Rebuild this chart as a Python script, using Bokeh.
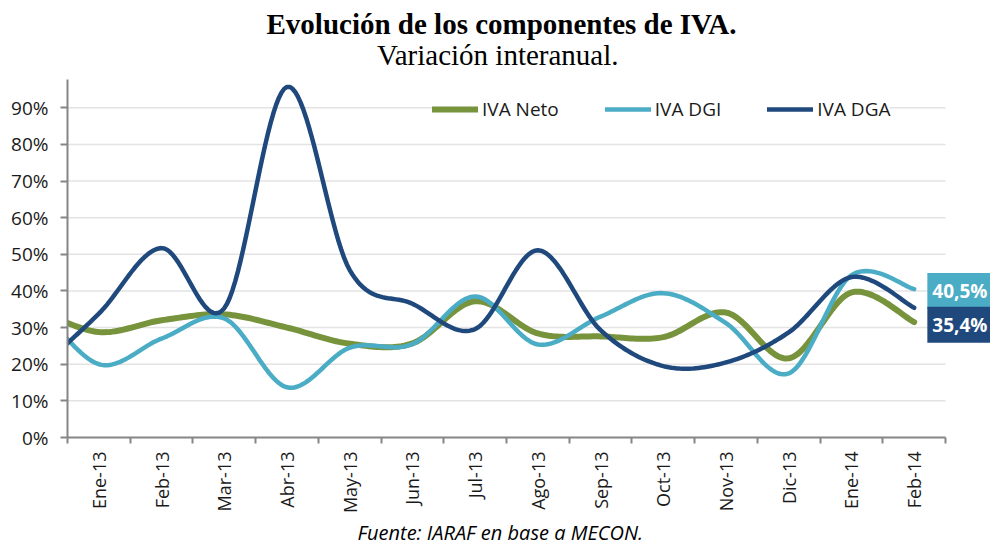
import math
import numpy as np
from bokeh.plotting import figure
from bokeh.models import FixedTicker, Label, Legend, LegendItem, Range1d, Title
from bokeh.embed import file_html
from bokeh.resources import INLINE

# ---- data (first point, Dic-12, lies just left of the visible axis) ----
months = ["Dic-12", "Ene-13", "Feb-13", "Mar-13", "Abr-13", "May-13", "Jun-13", "Jul-13",
          "Ago-13", "Sep-13", "Oct-13", "Nov-13", "Dic-13", "Ene-14", "Feb-14"]
tick_labels = months[1:]
iva_neto = [35.0, 28.8, 32.0, 33.6, 30.0, 25.6, 25.7, 37.2, 28.4, 27.6, 27.4, 34.1, 21.6, 39.6, 31.5]
iva_dgi = [37.0, 20.0, 27.0, 32.5, 13.7, 24.5, 25.5, 38.5, 25.4, 33.0, 39.4, 31.2, 17.5, 44.3, 40.5]
iva_dga = [18.0, 33.8, 51.7, 35.3, 95.7, 45.7, 36.5, 29.6, 51.1, 29.3, 19.5, 20.5, 28.7, 43.8, 35.4]
y_ticks = [0, 10, 20, 30, 40, 50, 60, 70, 80, 90]

x_vals = list(range(-1, len(months) - 1))
n_cat = len(tick_labels)
Y_AXIS_TOP = 97.7

GREEN = "#77933C"
AQUA = "#4BACC6"
NAVY = "#1F497D"
GRAY = "#868686"
FONT = "Open Sans"


def smooth(xs, ys, n=24):
    pts = np.column_stack([np.asarray(xs, float), np.asarray(ys, float)])
    out_x, out_y = [], []
    m = len(pts)
    t = np.linspace(0, 1, n)[:, None]
    for i in range(m - 1):
        p0 = pts[i - 1] if i > 0 else pts[i]
        p1 = pts[i]
        p2 = pts[i + 1]
        p3 = pts[i + 2] if i + 2 < m else pts[i + 1]
        c1 = p1 + (p2 - p0) / 6.0
        c2 = p2 - (p3 - p1) / 6.0
        seg = ((1 - t) ** 3) * p1 + 3 * ((1 - t) ** 2) * t * c1 + 3 * (1 - t) * t ** 2 * c2 + t ** 3 * p2
        if i > 0:
            seg = seg[1:]
        out_x.extend(seg[:, 0])
        out_y.extend(seg[:, 1])
    return out_x, out_y


p = figure(frame_width=923, frame_height=437,
           min_border_left=67, min_border_right=0, min_border_top=0, min_border_bottom=107,
           x_range=Range1d(-0.5, 14.217), y_range=Range1d(0, 119.29),
           output_backend="svg", toolbar_location=None)
p.outline_line_color = None
p.background_fill_color = "white"
p.border_fill_color = "white"
p.xgrid.visible = False
p.ygrid.visible = False

# horizontal gridlines limited to the category span
grid_vals = y_ticks[1:]
p.segment(x0=[-0.5] * len(grid_vals), x1=[n_cat - 0.5] * len(grid_vals),
          y0=grid_vals, y1=grid_vals, line_color="#E3E3E3", line_width=1.5)

# y axis
p.yaxis.bounds = (0, Y_AXIS_TOP)
p.yaxis.ticker = FixedTicker(ticks=y_ticks)
p.yaxis.major_label_overrides = {v: f"{v}%" for v in y_ticks}
p.yaxis.axis_line_color = GRAY
p.yaxis.axis_line_width = 2
p.yaxis.major_tick_line_color = GRAY
p.yaxis.major_tick_line_width = 2
p.yaxis.major_tick_out = 7
p.yaxis.major_tick_in = 0
p.yaxis.minor_tick_line_color = None
p.yaxis.major_label_standoff = 12
p.yaxis.major_label_text_font = FONT
p.yaxis.major_label_text_font_size = "19px"
p.yaxis.major_label_text_color = "#1a1a1a"

# x axis
p.xaxis.bounds = (-0.5, n_cat - 0.5)
p.xaxis.ticker = FixedTicker(ticks=list(range(n_cat)),
                             minor_ticks=[i - 0.5 for i in range(n_cat + 1)])
p.xaxis.major_label_overrides = {i: lab for i, lab in enumerate(tick_labels)}
p.xaxis.axis_line_color = GRAY
p.xaxis.axis_line_width = 2
p.xaxis.major_tick_line_color = None
p.xaxis.major_tick_out = 6
p.xaxis.major_tick_in = 0
p.xaxis.minor_tick_line_color = GRAY
p.xaxis.minor_tick_line_width = 2
p.xaxis.minor_tick_out = 6
p.xaxis.minor_tick_in = 0
p.xaxis.major_label_orientation = math.pi / 2
p.xaxis.major_label_standoff = 8
p.xaxis.major_label_text_font = FONT
p.xaxis.major_label_text_font_size = "18px"
p.xaxis.major_label_text_color = "#1a1a1a"

# lines
sx, sy = smooth(x_vals, iva_neto)
r1 = p.line(sx, sy, line_color=GREEN, line_width=6, line_cap="round", line_join="round")
sx, sy = smooth(x_vals, iva_dgi)
r2 = p.line(sx, sy, line_color=AQUA, line_width=4.5, line_cap="round", line_join="round")
sx, sy = smooth(x_vals, iva_dga)
r3 = p.line(sx, sy, line_color=NAVY, line_width=4.5, line_cap="round", line_join="round")

legend = Legend(items=[LegendItem(label="IVA Neto", renderers=[r1]),
                       LegendItem(label="IVA DGI", renderers=[r2]),
                       LegendItem(label="IVA DGA", renderers=[r3])],
                location=(365, 315), orientation="horizontal",
                glyph_width=46, glyph_height=20, label_standoff=4, spacing=46,
                padding=0, margin=0, border_line_color=None,
                background_fill_color="white", background_fill_alpha=1.0,
                label_text_font=FONT, label_text_font_size="19px", label_text_color="#1a1a1a")
p.add_layout(legend, "center")


# end value labels
def fmt(v):
    return f"{v:.1f}%".replace(".", ",")


p.add_layout(Label(x=13.21, y=iva_dgi[-1] - 0.5, text=fmt(iva_dgi[-1]), text_align="left",
                   text_baseline="middle", text_color="white", text_font=FONT,
                   text_font_style="bold", text_font_size="19px",
                   background_fill_color=AQUA, padding=5))
p.add_layout(Label(x=13.21, y=iva_dga[-1] - 4.6, text=fmt(iva_dga[-1]), text_align="left",
                   text_baseline="middle", text_color="white", text_font=FONT,
                   text_font_style="bold", text_font_size="19px",
                   background_fill_color=NAVY, padding=5))

# titles
p.add_layout(Label(x=6.42, y=112.8, text="Evolución de los componentes de IVA.",
                   text_align="center", text_baseline="alphabetic", text_font="Liberation Serif",
                   text_font_style="bold", text_font_size="29px", text_color="black"))
p.add_layout(Label(x=6.36, y=104.3, text="Variación interanual.",
                   text_align="center", text_baseline="alphabetic", text_font="Liberation Serif",
                   text_font_size="29px", text_color="black"))

# source line below the axis
p.add_layout(Title(text="Fuente: IARAF en base a MECON.", align="left", offset=290,
                   standoff=0, text_line_height=1.0, text_font=FONT, text_font_style="italic",
                   text_font_size="20px", text_color="black"), "below")

open("out.html", "w").write(file_html(p, INLINE))
